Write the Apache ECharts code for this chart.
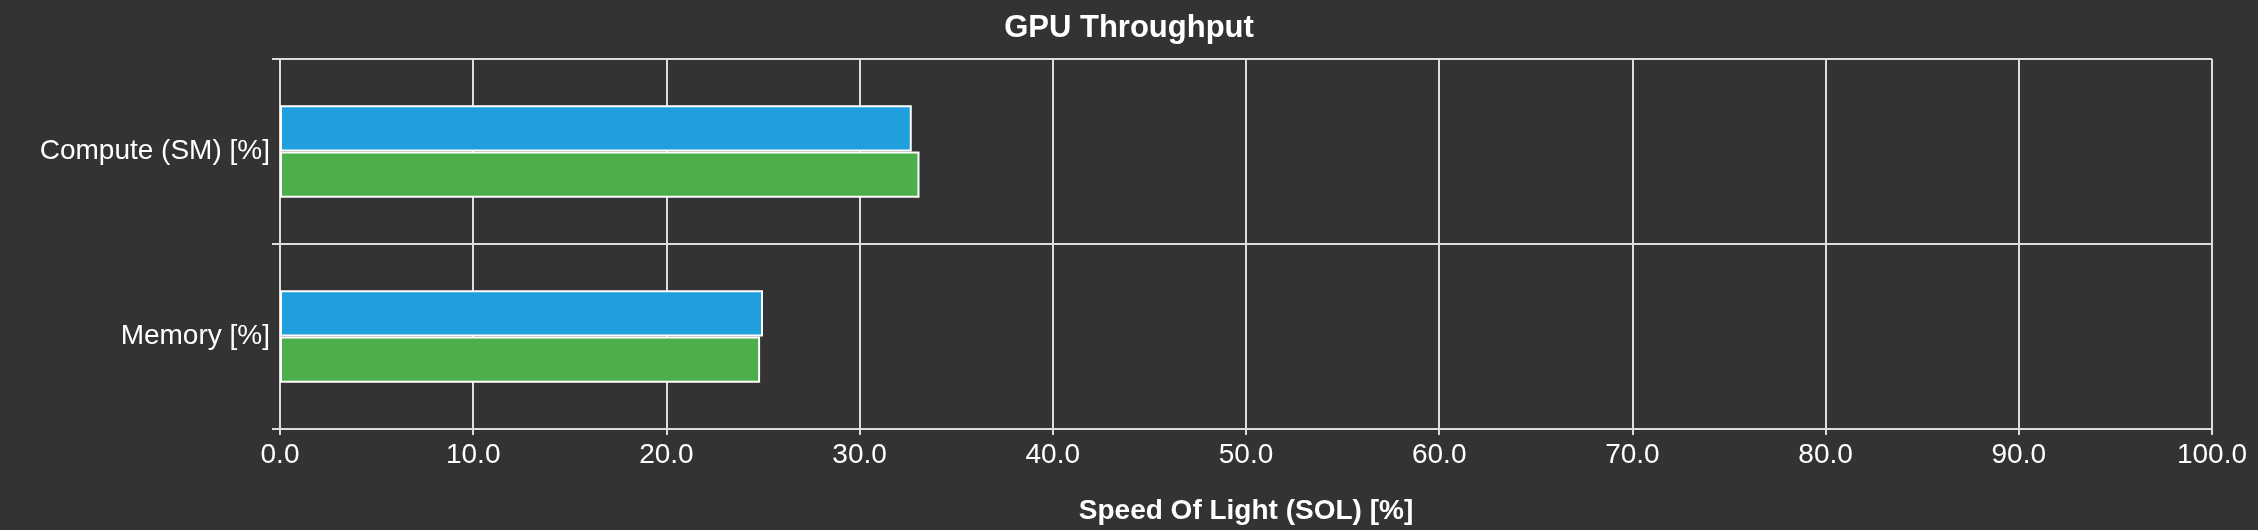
<!DOCTYPE html>
<html><head><meta charset="utf-8">
<script src="https://cdn.jsdelivr.net/npm/echarts@6/dist/echarts.min.js"></script>
<style>html,body{margin:0;padding:0;background:#333333;}#c{width:2258px;height:530px;}</style>
</head><body><div id="c"></div>
<script>
const categories = ["Compute (SM) [%]", "Memory [%]"];
const seriesA = [32.7, 25.0];
const seriesB = [33.1, 24.85];
const xTicks = [0, 100, 10];
const chart = echarts.init(document.getElementById('c'));
const ff = '"Liberation Sans", Arial, sans-serif';
const bar = (d, c) => ({type:'bar', data:d, barGap:'0%', barCategoryGap:'50%',
  itemStyle:{color:c, borderColor:'#ffffff', borderWidth:2}});
chart.setOption({
  backgroundColor:'#333333',
  animation:false,
  title:{text:'GPU Throughput', left:'center', top:8, textStyle:{color:'#fff', fontFamily:ff, fontSize:31, fontWeight:'bold'}},
  grid:{left:280, right:46, top:59, bottom:98},
  xAxis:{type:'value', min:xTicks[0], max:xTicks[1], interval:xTicks[2],
    name:'Speed Of Light (SOL) [%]', nameLocation:'middle', nameGap:68,
    nameTextStyle:{color:'#fff', fontFamily:ff, fontSize:28, fontWeight:'bold'},
    axisLine:{show:true, lineStyle:{color:'#dddddd', width:2}},
    axisTick:{show:true, length:6, lineStyle:{color:'#dddddd', width:2}},
    axisLabel:{color:'#fff', fontFamily:ff, fontSize:28, margin:12, formatter:v=>v.toFixed(1)},
    splitLine:{show:true, lineStyle:{color:'#dddddd', width:2}}},
  yAxis:{type:'category', data:categories, inverse:true,
    axisLine:{show:true, lineStyle:{color:'#dddddd', width:2}},
    axisTick:{show:true, length:8, lineStyle:{color:'#dddddd', width:2}},
    axisLabel:{color:'#fff', fontFamily:ff, fontSize:28, margin:10},
    splitLine:{show:true, lineStyle:{color:'#dddddd', width:2}}},
  series:[bar(seriesA,'#1f9fde'), bar(seriesB,'#4caf4c')]
});
chart.on('finished',()=>{});
</script></body></html>
